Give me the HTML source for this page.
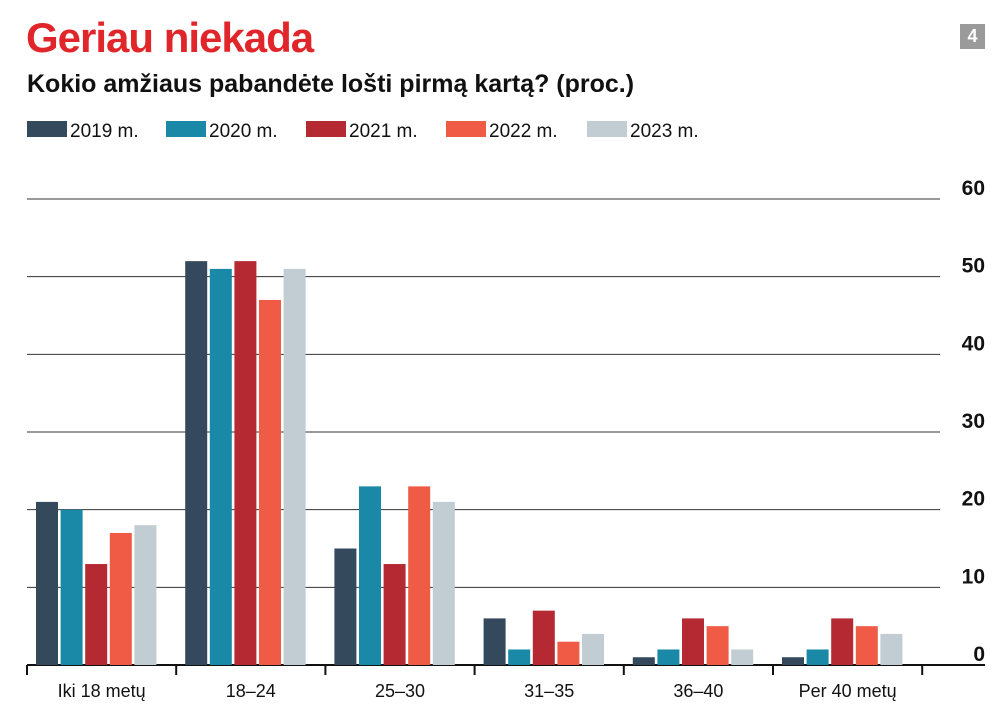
<!DOCTYPE html>
<html><head><meta charset="utf-8">
<style>
body{margin:0;background:#fff;width:1000px;height:723px;overflow:hidden;font-family:"Liberation Sans",sans-serif;}
#title{position:absolute;left:26px;top:14px;font-size:42px;font-weight:bold;color:#e0262a;letter-spacing:-1px;}
#sub{position:absolute;left:27px;top:70px;font-size:25px;font-weight:bold;color:#111;}
#badge{position:absolute;left:960px;top:24px;width:25px;height:25px;background:#9a9a9a;color:#fff;font-weight:bold;font-size:18px;text-align:center;line-height:25px;}
</style></head><body>
<div id="title">Geriau niekada</div>
<div id="sub">Kokio amžiaus pabandėte lošti pirmą kartą? (proc.)</div>
<div id="badge">4</div>
<svg id="c" width="1000" height="723" style="position:absolute;left:0;top:0"></svg>
<script>
const categories=["Iki 18 metų","18–24","25–30","31–35","36–40","Per 40 metų"];
const seriesNames=["2019 m.","2020 m.","2021 m.","2022 m.","2023 m."];
const s2019=[21,52,15,6,1,1];
const s2020=[20,51,23,2,2,2];
const s2021=[13,52,13,7,6,6];
const s2022=[17,47,23,3,5,5];
const s2023=[18,51,21,4,2,4];
const ticks=[0,10,20,30,40,50,60];
const series=[s2019,s2020,s2021,s2022,s2023];
const colors=["#344a5c","#1a89a8","#b52a32","#ef5b45","#c2ccd3"];
const NS="http://www.w3.org/2000/svg";
const svg=document.getElementById('c');
function mk(t,a){const e=document.createElementNS(NS,t);for(const k in a)e.setAttribute(k,a[k]);svg.appendChild(e);return e;}
const x0=27,cw=149.2,y0=665,yMax=60,yTop=199;
const y=v=>y0-(v/yMax)*(y0-yTop);
ticks.forEach(t=>{
  if(t>0){const l=mk('line',{x1:x0,x2:940,y1:y(t),y2:y(t),stroke:'#333','stroke-width':1});
  }
  const tx=mk('text',{x:985,y:y(t)-4,'text-anchor':'end','font-size':21,'font-weight':'bold',fill:'#111'});
  tx.textContent=t;
  
  
});
const base=mk('line',{x1:x0,x2:985,y1:y0,y2:y0,stroke:'#111','stroke-width':2});


for(let i=0;i<=categories.length;i++){
  const tk=mk('line',{x1:x0+i*cw,x2:x0+i*cw,y1:y0,y2:y0+10,stroke:'#111','stroke-width':2});
  
  
}
categories.forEach((c,i)=>{
  const tx=mk('text',{x:x0+i*cw+cw/2,y:697,'text-anchor':'middle','font-size':18,fill:'#111'});
  tx.textContent=c;
  
  
  series.forEach((s,j)=>{
    const bx=x0+i*cw+9+j*24.6;
    const r=mk('rect',{x:bx,y:y(s[i]),width:22,height:y0-y(s[i]),fill:colors[j]});
    
    
  });
});
const lx=[27,166,306,446,587];
seriesNames.forEach((n,j)=>{
  const r=mk('rect',{x:lx[j],y:121,width:40,height:16,fill:colors[j]});
  
  
  const t=mk('text',{x:lx[j]+43,y:137,'font-size':19,fill:'#111'});
  t.textContent=n;
  
  
});
</script>
</body></html>
